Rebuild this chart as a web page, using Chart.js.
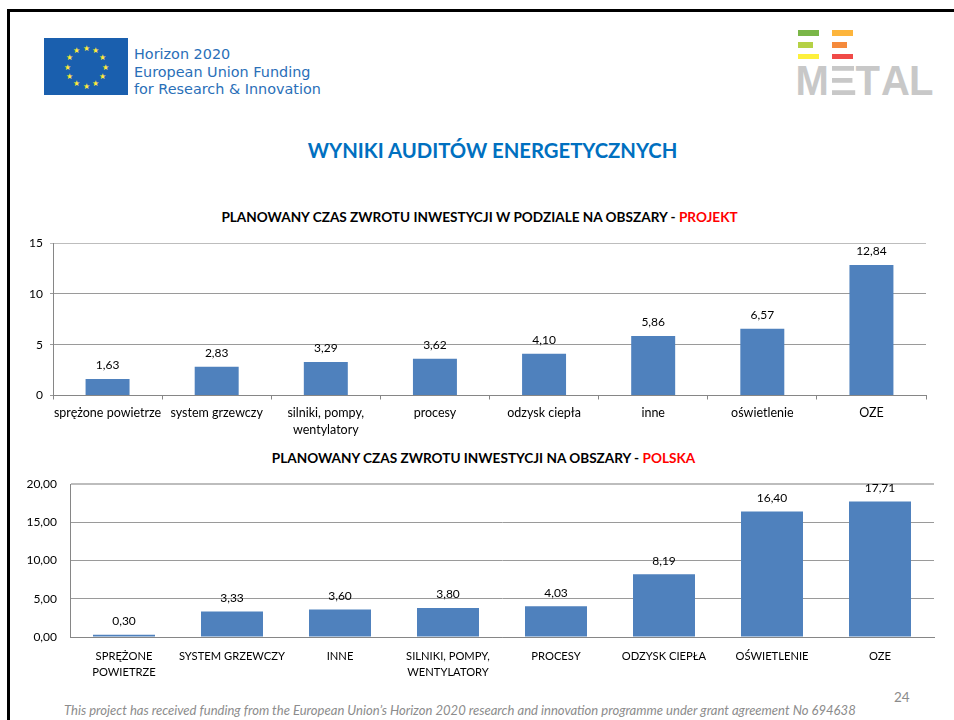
<!DOCTYPE html>
<html><head><meta charset="utf-8">
<script src="https://cdn.jsdelivr.net/npm/chart.js@4"></script>
<style>
html,body{margin:0;padding:0;background:#fff;width:954px;height:720px;overflow:hidden;font-family:Lato,sans-serif}
.abs{position:absolute;white-space:nowrap}
canvas{position:absolute}
.bar{position:absolute;height:5.5px}
.lg{position:absolute;top:59px;font:bold 40px/46px 'Liberation Sans',sans-serif;color:#c8c8c8;transform-origin:0 100%;transform:scale(1,1.08)}
</style></head><body>
<div class="abs" style="left:7px;top:9px;width:947px;height:3px;background:#000"></div>
<div class="abs" style="left:7px;top:9px;width:3px;height:711px;background:#000"></div>

<div class="abs" id="flag" style="left:44px;top:38px;width:84px;height:57px;background:#1a5fae;color:#ffe93b;font-size:8px;line-height:8px"></div>
<div class="abs" style="left:134px;top:46px;font:14.4px/17.5px 'DejaVu Sans',sans-serif;color:#2a6fb8">Horizon 2020<br>European Union Funding<br>for Research &amp; Innovation</div>

<div class="bar" style="left:798px;top:30px;width:21px;background:#7ab648"></div>
<div class="bar" style="left:832px;top:30px;width:21px;background:#fdb53c"></div>
<div class="bar" style="left:798px;top:42px;width:15px;background:#b5d145"></div>
<div class="bar" style="left:832px;top:42px;width:15px;background:#f58a3c"></div>
<div class="bar" style="left:798px;top:53.5px;width:21px;background:#fdf03c"></div>
<div class="bar" style="left:832px;top:53.5px;width:21px;background:#f04a48"></div>
<span class="lg" style="left:820.4px;transform:scale(1.4,1.08)">E</span>
<div class="abs" style="left:820px;top:60px;width:12px;height:42px;background:#fff"></div>
<span class="lg" style="left:795.5px">M</span>
<span class="lg" style="left:855.5px">T</span>
<span class="lg" style="left:881px">A</span>
<span class="lg" style="left:909px">L</span>

<div class="abs" style="left:0;width:985px;text-align:center;top:137px;font:bold 20.3px/26px Lato,sans-serif;color:#0070c0">WYNIKI AUDITÓW ENERGETYCZNYCH</div>
<div class="abs" style="left:0;width:959px;text-align:center;top:209px;font:bold 13.6px/16px Lato,sans-serif;color:#000">PLANOWANY CZAS ZWROTU INWESTYCJI W PODZIALE NA OBSZARY - <span style="color:#f00">PROJEKT</span></div>
<div class="abs" style="left:0;width:967px;text-align:center;top:450px;font:bold 13.6px/16px Lato,sans-serif;color:#000">PLANOWANY CZAS ZWROTU INWESTYCJI NA OBSZARY - <span style="color:#f00">POLSKA</span></div>

<canvas id="c1" width="934" height="240" style="left:10px;top:205px;width:934px;height:240px"></canvas>
<canvas id="c2" width="934" height="240" style="left:10px;top:447px;width:934px;height:240px"></canvas>

<div class="abs" style="left:894px;top:689px;font:13.5px/16px Lato,sans-serif;color:#8b8b8b">24</div>
<div class="abs" style="left:64px;top:703px;font:italic 13.05px/14px Lato,sans-serif;color:#8c8c8c">This project has received  funding from the European Union’s Horizon 2020 research and innovation programme under grant agreement No 694638</div>

<script>
const categoriesProjekt = ['sprężone powietrze','system grzewczy',['silniki, pompy,','wentylatory'],'procesy','odzysk ciepła','inne','oświetlenie','OZE'];
const valuesProjekt = [1.63,2.83,3.29,3.62,4.10,5.86,6.57,12.84];
const categoriesPolska = [['SPRĘŻONE','POWIETRZE'],'SYSTEM GRZEWCZY','INNE',['SILNIKI, POMPY,','WENTYLATORY'],'PROCESY','ODZYSK CIEPŁA','OŚWIETLENIE','OZE'];
const valuesPolska = [0.30,3.33,3.60,3.80,4.03,8.19,16.40,17.71];
const fmt = (v,d)=>Number(v).toFixed(d).replace('.',',');

const flag=document.getElementById('flag');
for(let i=0;i<12;i++){const s=document.createElement('span');s.textContent='★';const a=i*Math.PI/6;
 s.style.cssText=`position:absolute;left:${42+19*Math.sin(a)-3.5}px;top:${28.5-19*Math.cos(a)-4}px`;flag.appendChild(s);}

const valueLabels={id:'valueLabels',afterDatasetsDraw(ch){const x=ch.ctx;x.save();x.font='12px Lato';x.fillStyle='#000';x.textAlign='center';x.textBaseline='middle';
 ch.getDatasetMeta(0).data.forEach((b,i)=>x.fillText(fmt(ch.data.datasets[0].data[i],2),b.x,b.y-13.5));x.restore();}};

function make(id,labels,data,o){
 return new Chart(document.getElementById(id),{type:'bar',plugins:[valueLabels],
 data:{labels,datasets:[{data,backgroundColor:'#4f81bd',barPercentage:1,categoryPercentage:o.cat}]},
 options:{responsive:false,animation:false,
  layout:{padding:{top:o.top,right:o.right}},
  plugins:{legend:{display:false},tooltip:{enabled:false},title:{display:false}},
  scales:{
   x:{grid:{drawOnChartArea:false,drawTicks:o.ticks,tickLength:4,color:'#868686'},border:{color:'#868686'},
      ticks:{color:'#000',font:{family:'Lato',size:o.xsize,lineHeight:o.xlh},maxRotation:0,autoSkip:false,padding:o.xpad},
      afterFit(s){s.height=240-o.top-o.plot;}},
   y:{min:0,max:o.max,ticks:{stepSize:o.step,color:'#000',font:{family:'Lato',size:12},padding:o.ypad,callback:v=>o.dec?fmt(v,o.dec):String(v)},
      grid:{color:c=>c.tick.value===o.max?'#bdbdbd':'#9a9a9a',lineWidth:c=>c.tick.value===o.max?o.topw:1,drawTicks:o.ticks,tickLength:3},border:{color:'#868686'},
      afterFit(s){s.width=o.left;}}
  }}});
}
make('c1',categoriesProjekt,valuesProjekt,{cat:0.403,top:38,plot:152.5,right:18,ticks:true,xpad:5,ypad:7,xsize:12.5,xlh:1.35,max:15,step:5,dec:0,left:43,topw:1});
make('c2',categoriesPolska,valuesPolska,{cat:0.574,top:37,plot:153,right:10,ticks:false,xpad:11,ypad:13,xsize:11.2,xlh:1.43,max:20,step:5,dec:2,left:60,topw:2});
</script>
</body></html>
